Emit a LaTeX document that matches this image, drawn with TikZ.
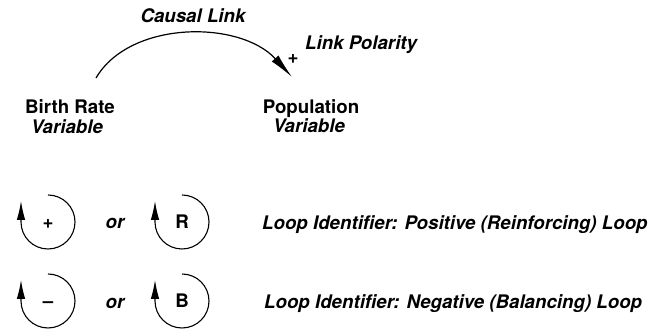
\documentclass[tikz,border=0pt]{standalone}
\usepackage{fontspec}
\setmainfont{TeX Gyre Heros}
\usetikzlibrary{arrows.meta}

\begin{document}
\begin{tikzpicture}
		[x=1pt,y=1pt]
		\tikzstyle{every node}=[inner sep=0pt, text height=13.4pt, text depth=0pt,
		font=\fontsize{18.7}{20}\selectfont\bfseries]
		\tikzstyle{varlabel}=[font=\fontsize{18.7}{20}\selectfont\bfseries\itshape]
		\tikzstyle{link}=[line width=1.2pt, -{Latex[length=25pt,width=9pt]}]
		\tikzstyle{fbloop}=[line width=1.1pt, -{Latex[length=19pt,width=8.5pt]}]
		\useasboundingbox (0,0) rectangle (654,331);
		%-----causal link
		 \node (birth) at (70,224) {Birth Rate};
		 \node[varlabel] (birthv) at (67,204) {Variable};
		 \node (pop) at (311,224) {Population};
		 \node[varlabel] (popv) at (309,205) {Variable};
		 \node[varlabel] (causal) at (193,315) {Causal Link};
		 \node (pol) at (293,274) {+};
		 \node[varlabel, anchor=west] (polarity) at (305,288) {Link Polarity};
		 \coordinate (cause) at (96,253);
		 \coordinate (effect) at (292,254);
		 \draw[link] (cause) .. controls (130,311) and (240,311) .. (effect);
		 
		%-----loop identifiers
		 \foreach \name/\cx/\cy/\sym in {pos/48/109/+, rein/182/109/R, neg/48/30/\textendash, bal/182/30/B}
		 {
		 \node (\name) at (\cx,\cy) {\sym};
		 \draw[fbloop] (\name.center) ++(90:27) arc[start angle=90, end angle=-180, radius=27] -- ++(0,21);
		 }
		 \node[varlabel] (or1) at (115,109) {or};
		 \node[varlabel] (or2) at (115,29) {or};
		 \node[varlabel, anchor=west] (posloop) at (262,108) {Loop Identifier: Positive (Reinforcing) Loop};
		 \node[varlabel, anchor=west] (negloop) at (264,29) {Loop Identifier: Negative (Balancing) Loop};
		 
\end{tikzpicture}
\end{document}
